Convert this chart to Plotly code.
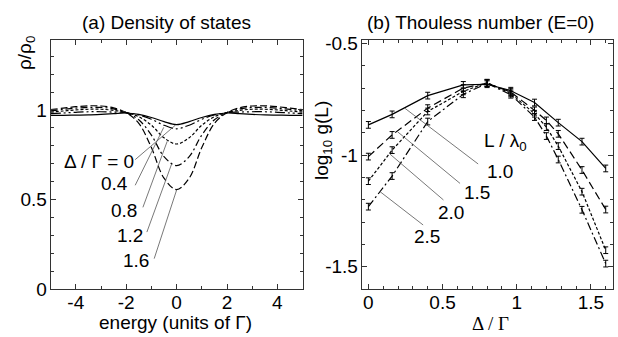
import plotly.graph_objects as go

# ---------------- data: panel (a) density of states ----------------
energy = [-5, -4.5, -4, -3.5, -3, -2.5, -2, -1.5, -1, -0.5, 0,
          0.5, 1, 1.5, 2, 2.5, 3, 3.5, 4, 4.5, 5]
delta_labels = ["0", "0.4", "0.8", "1.2", "1.6"]
dos_d00 = [0.970, 0.970, 0.971, 0.972, 0.975, 0.979, 0.983, 0.975, 0.958, 0.935, 0.918,
           0.935, 0.958, 0.975, 0.983, 0.979, 0.975, 0.972, 0.971, 0.970, 0.970]
dos_d04 = [0.980, 0.983, 0.987, 0.990, 0.990, 0.988, 0.985, 0.972, 0.948, 0.915, 0.895,
           0.915, 0.948, 0.972, 0.985, 0.988, 0.990, 0.990, 0.987, 0.983, 0.980]
dos_d08 = [0.988, 0.994, 1.000, 1.004, 1.004, 0.998, 0.985, 0.962, 0.915, 0.845, 0.810,
           0.845, 0.915, 0.962, 0.985, 0.998, 1.004, 1.004, 1.000, 0.994, 0.988]
dos_d12 = [0.995, 1.003, 1.010, 1.014, 1.014, 1.006, 0.985, 0.945, 0.860, 0.740, 0.690,
           0.740, 0.860, 0.945, 0.985, 1.006, 1.014, 1.014, 1.010, 1.003, 0.995]
dos_d16 = [1.002, 1.010, 1.018, 1.023, 1.022, 1.012, 0.985, 0.925, 0.790, 0.620, 0.556,
           0.620, 0.790, 0.925, 0.985, 1.012, 1.022, 1.023, 1.018, 1.010, 1.002]
dos_series = [dos_d00, dos_d04, dos_d08, dos_d12, dos_d16]

# ---------------- data: panel (b) Thouless number ----------------
size_labels = ["1.0", "1.5", "2.0", "2.5"]
delta_a = [0, 0.16, 0.4, 0.64, 0.8, 0.96, 1.12, 1.28, 1.44, 1.6]
delta_b = [0, 0.16, 0.4, 0.64, 0.8, 0.96, 1.12, 1.2, 1.28, 1.44, 1.6]
logg_10 = [-0.865, -0.818, -0.734, -0.686, -0.683, -0.712, -0.765, -0.855, -0.940, -1.060]
logg_15 = [-1.007, -0.910, -0.790, -0.700, -0.678, -0.718, -0.800, -0.845, -0.905, -1.067, -1.244]
logg_20 = [-1.117, -0.978, -0.805, -0.715, -0.676, -0.724, -0.815, -0.875, -0.960, -1.164, -1.426]
logg_25 = [-1.231, -1.094, -0.850, -0.728, -0.679, -0.730, -0.830, -0.915, -1.020, -1.245, -1.486]
err_10 = [0.015, 0.015, 0.015, 0.015, 0.015, 0.015, 0.015, 0.015, 0.015, 0.015]
err_b = [0.015, 0.015, 0.015, 0.015, 0.015, 0.015, 0.015, 0.015, 0.015, 0.015, 0.015]
logg_x = [delta_a, delta_b, delta_b, delta_b]
logg_series = [logg_10, logg_15, logg_20, logg_25]
logg_err = [err_10, err_b, err_b, err_b]

FONT = "Liberation Sans, Arial, Helvetica, sans-serif"
SERIF = "Liberation Serif, Times New Roman, serif"
W, H = 618, 337

fig = go.Figure(layout=dict(template="none"))

dos_dash = ["solid", "10px,3px,2px,3px,2px,3px", "3px,2px", "7px,3px,2px,3px", "7px,3px"]
for vals, d in zip(dos_series, dos_dash):
    fig.add_trace(go.Scatter(x=energy, y=vals, mode="lines", xaxis="x", yaxis="y",
                             line=dict(color="black", width=1.2, dash=d, shape="spline",
                                       smoothing=1.0),
                             showlegend=False, hoverinfo="skip"))

g_dash = ["solid", "8px,4px", "3px,2px", "8px,3px,2px,3px"]
for xs, ys, es, d in zip(logg_x, logg_series, logg_err, g_dash):
    fig.add_trace(go.Scatter(x=xs, y=ys, mode="lines", xaxis="x2", yaxis="y2",
                             line=dict(color="black", width=1.2, dash=d),
                             error_y=dict(type="data", array=es, visible=True,
                                          color="black", thickness=1, width=2.5),
                             showlegend=False, hoverinfo="skip"))

def px_x(p):
    return p / W

def px_y(p):
    return 1 - p / H

axis_common = dict(showgrid=False, zeroline=False, showline=True, linecolor="#333",
                   linewidth=1, mirror="ticks", ticks="inside", ticklen=5,
                   tickcolor="#333", automargin=False,
                   tickfont=dict(family=FONT, size=19, color="black"))

fig.update_layout(
    width=W, height=H, margin=dict(l=0, r=0, t=0, b=0, pad=0, autoexpand=False),
    paper_bgcolor="white", plot_bgcolor="white", showlegend=False,
    xaxis=dict(domain=[50.6 / W, 302.6 / W], range=[-5, 5], anchor="y",
               tickvals=[-4, -2, 0, 2, 4], ticktext=["-4", "-2", "0", "2", "4"],
               minor=dict(dtick=1, ticks="inside", ticklen=3, tickcolor="#333"),
               ticklabelstandoff=-4, **axis_common),
    yaxis=dict(domain=[1 - 289.3 / H, 1 - 40 / H], range=[0, 1.39], anchor="x",
               tickvals=[0, 0.5, 1], ticktext=["0", "0.5", "1"],
               minor=dict(dtick=0.1, ticks="inside", ticklen=3, tickcolor="#333"),
               ticklabelstandoff=-1, **axis_common),
    xaxis2=dict(domain=[361.7 / W, 612.7 / W], range=[-0.045, 1.647], anchor="y2",
                tickvals=[0, 0.5, 1, 1.5], ticktext=["0", "0.5", "1", "1.5"],
                minor=dict(dtick=0.1, ticks="inside", ticklen=3, tickcolor="#333"),
                ticklabelstandoff=-4, **axis_common),
    yaxis2=dict(domain=[1 - 289.3 / H, 1 - 40 / H], range=[-1.601, -0.485], anchor="x2",
                tickvals=[-0.5, -1, -1.5], ticktext=["-0.5", "-1", "-1.5"],
                minor=dict(dtick=0.1, ticks="inside", ticklen=3, tickcolor="#333"),
                ticklabelstandoff=-1, **axis_common),
)

ann = []
def add_text(text, x, y, size=19, xanchor="center", yanchor="middle", angle=0,
             family=FONT, xref="paper", yref="paper"):
    ann.append(dict(text=text, x=x, y=y, xref=xref, yref=yref, showarrow=False,
                    xanchor=xanchor, yanchor=yanchor, textangle=angle,
                    font=dict(family=family, size=size, color="black")))

add_text("(a) Density of states", px_x(166.5), px_y(22))
add_text("(b) Thouless number (E=0)", px_x(480), px_y(22))
add_text("energy (units of Γ)", px_x(175), px_y(322))
add_text("Δ / Γ", px_x(490), px_y(323), family=SERIF)
add_text("ρ/ρ<sub>0</sub>", px_x(26), px_y(53), angle=-90)
add_text("log<sub>10</sub> g(L)", px_x(323), px_y(140), angle=-90)

# panel (a) labels and leader lines
dos_label_pos = [(-1.62, 0.713), (-1.84, 0.588), (-1.48, 0.437), (-1.245, 0.301), (-1.007, 0.162)]
dos_lines = [((-1.643, 0.723), (-0.056, 0.914)),
             ((-1.643, 0.580), (-0.51, 0.903)),
             ((-1.337, 0.457), (-0.373, 0.825)),
             ((-1.179, 0.319), (-0.194, 0.700)),
             ((-0.889, 0.171), (0.004, 0.555))]
for i, (lab, (lx, ly)) in enumerate(zip(delta_labels, dos_label_pos)):
    text = "Δ / Γ = " + lab if i == 0 else lab
    add_text(text, lx, ly, xanchor="right", xref="x", yref="y", size=19)

# panel (b) labels and leader lines
g_label_pos = [(0.888, -1.072), (0.733, -1.166), (0.558, -1.255), (0.396, -1.363)]
g_lines = [((0.247, -0.791), (0.740, -1.040)),
           ((0.197, -0.896), (0.618, -1.127)),
           ((0.146, -0.996), (0.506, -1.201)),
           ((0.079, -1.164), (0.369, -1.313))]
for lab, (lx, ly) in zip(size_labels, g_label_pos):
    add_text(lab, lx, ly, xref="x2", yref="y2", size=19)
add_text("L / λ<sub>0</sub>", 0.922, -0.942, xref="x2", yref="y2", size=19)

shapes = []
for (a, b) in dos_lines:
    shapes.append(dict(type="line", xref="x", yref="y", x0=a[0], y0=a[1], x1=b[0], y1=b[1],
                       line=dict(color="#555", width=0.8)))
for (a, b) in g_lines:
    shapes.append(dict(type="line", xref="x2", yref="y2", x0=a[0], y0=a[1], x1=b[0], y1=b[1],
                       line=dict(color="#555", width=0.8)))

fig.update_layout(annotations=ann, shapes=shapes)
fig.write_html("out.html")
